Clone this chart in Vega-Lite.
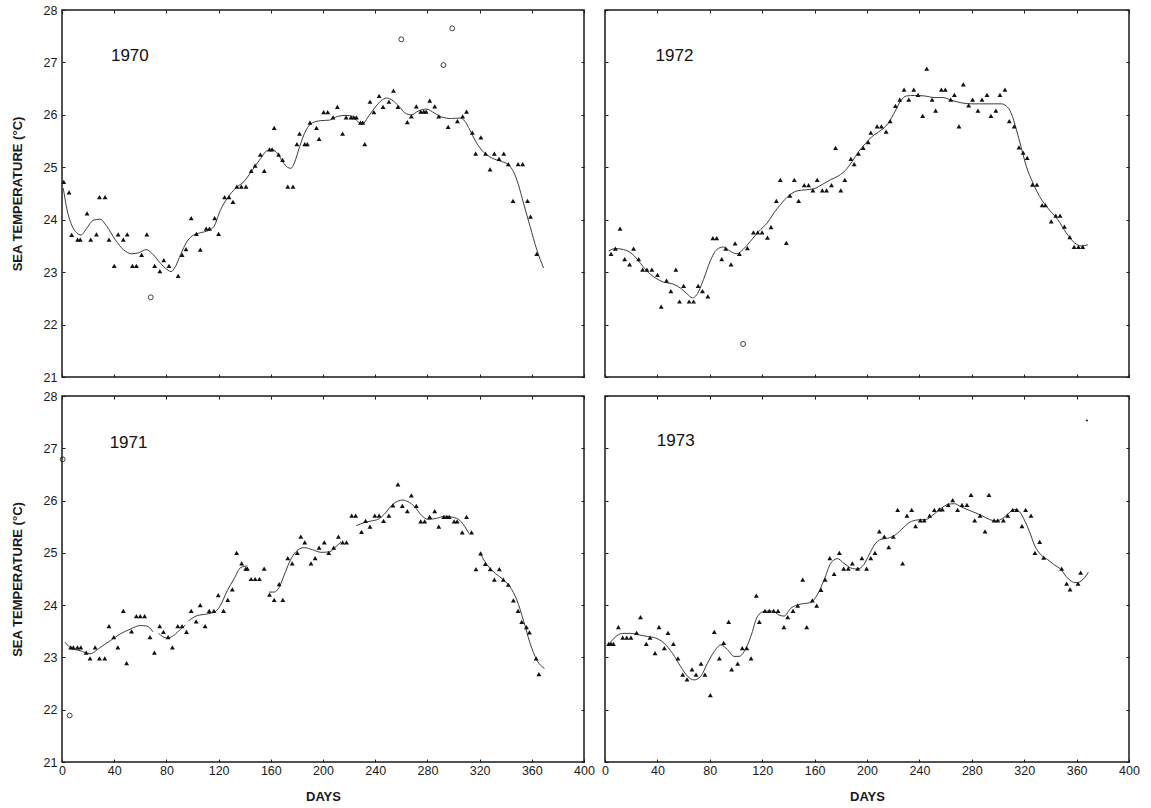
{
 "$schema": "https://vega.github.io/schema/vega-lite/v6.json",
 "background": "white",
 "padding": {"left": 10, "top": 3, "right": 5, "bottom": 5},
 "config": {
  "font": "Liberation Sans",
  "view": {"stroke": "#1a1a1a", "strokeWidth": 1.5},
  "axis": {"grid": false, "domain": false, "labelFlush": false, "labelOverlap": false, "ticks": true, "tickSize": -3, "tickColor": "#1a1a1a", "tickWidth": 1, "labelFont": "Liberation Sans", "labelFontSize": 12.5, "labelColor": "#1a1a1a", "titleFont": "Liberation Sans", "titleFontSize": 13, "titleFontWeight": "bold", "titleColor": "#1a1a1a"}
 },
 "datasets": {
  "years": [{"year": 1970, "label": "1970"}, {"year": 1971, "label": "1971"}, {"year": 1972, "label": "1972"}, {"year": 1973, "label": "1973"}],
  "obs": [
   {"year":1970,"day":1.3,"temp":24.72,"kind":"triangle"},{"year":1970,"day":5.4,"temp":24.52,"kind":"triangle"},{"year":1970,"day":7.4,"temp":23.71,"kind":"triangle"},{"year":1970,"day":12,"temp":23.62,"kind":"triangle"},{"year":1970,"day":14,"temp":23.62,"kind":"triangle"},{"year":1970,"day":19.2,"temp":24.12,"kind":"triangle"},{"year":1970,"day":22,"temp":23.62,"kind":"triangle"},{"year":1970,"day":26.4,"temp":23.72,"kind":"triangle"},{"year":1970,"day":28.7,"temp":24.43,"kind":"triangle"},{"year":1970,"day":33,"temp":24.43,"kind":"triangle"},{"year":1970,"day":36,"temp":23.62,"kind":"triangle"},{"year":1970,"day":40,"temp":23.12,"kind":"triangle"},{"year":1970,"day":43,"temp":23.72,"kind":"triangle"},{"year":1970,"day":47,"temp":23.62,"kind":"triangle"},{"year":1970,"day":50,"temp":23.72,"kind":"triangle"},{"year":1970,"day":54,"temp":23.12,"kind":"triangle"},{"year":1970,"day":57,"temp":23.12,"kind":"triangle"},{"year":1970,"day":61,"temp":23.33,"kind":"triangle"},{"year":1970,"day":65,"temp":23.72,"kind":"triangle"},{"year":1970,"day":71,"temp":23.12,"kind":"triangle"},{"year":1970,"day":75,"temp":23.02,"kind":"triangle"},{"year":1970,"day":78,"temp":23.23,"kind":"triangle"},{"year":1970,"day":82,"temp":23.12,"kind":"triangle"},{"year":1970,"day":89,"temp":22.93,"kind":"triangle"},{"year":1970,"day":92,"temp":23.33,"kind":"triangle"},{"year":1970,"day":95,"temp":23.44,"kind":"triangle"},{"year":1970,"day":99,"temp":24.03,"kind":"triangle"},{"year":1970,"day":103,"temp":23.73,"kind":"triangle"},{"year":1970,"day":106,"temp":23.43,"kind":"triangle"},{"year":1970,"day":110.5,"temp":23.83,"kind":"triangle"},{"year":1970,"day":113,"temp":23.83,"kind":"triangle"},{"year":1970,"day":117,"temp":24.03,"kind":"triangle"},{"year":1970,"day":120,"temp":23.73,"kind":"triangle"},{"year":1970,"day":124.6,"temp":24.43,"kind":"triangle"},{"year":1970,"day":128,"temp":24.43,"kind":"triangle"},{"year":1970,"day":131,"temp":24.34,"kind":"triangle"},{"year":1970,"day":134,"temp":24.63,"kind":"triangle"},{"year":1970,"day":137.4,"temp":24.63,"kind":"triangle"},{"year":1970,"day":141,"temp":24.63,"kind":"triangle"},{"year":1970,"day":145,"temp":24.93,"kind":"triangle"},{"year":1970,"day":148,"temp":25.03,"kind":"triangle"},{"year":1970,"day":152,"temp":25.24,"kind":"triangle"},{"year":1970,"day":155,"temp":24.93,"kind":"triangle"},{"year":1970,"day":159,"temp":25.34,"kind":"triangle"},{"year":1970,"day":161,"temp":25.34,"kind":"triangle"},{"year":1970,"day":162.6,"temp":25.75,"kind":"triangle"},{"year":1970,"day":166,"temp":25.24,"kind":"triangle"},{"year":1970,"day":169,"temp":25.14,"kind":"triangle"},{"year":1970,"day":173,"temp":24.63,"kind":"triangle"},{"year":1970,"day":177,"temp":24.63,"kind":"triangle"},{"year":1970,"day":180,"temp":25.44,"kind":"triangle"},{"year":1970,"day":182,"temp":25.64,"kind":"triangle"},{"year":1970,"day":186,"temp":25.44,"kind":"triangle"},{"year":1970,"day":188,"temp":25.44,"kind":"triangle"},{"year":1970,"day":190,"temp":25.85,"kind":"triangle"},{"year":1970,"day":195,"temp":25.75,"kind":"triangle"},{"year":1970,"day":197,"temp":25.54,"kind":"triangle"},{"year":1970,"day":200.5,"temp":26.05,"kind":"triangle"},{"year":1970,"day":203.6,"temp":26.05,"kind":"triangle"},{"year":1970,"day":207.7,"temp":25.95,"kind":"triangle"},{"year":1970,"day":211,"temp":26.15,"kind":"triangle"},{"year":1970,"day":215,"temp":25.64,"kind":"triangle"},{"year":1970,"day":217.7,"temp":25.95,"kind":"triangle"},{"year":1970,"day":221.5,"temp":25.95,"kind":"triangle"},{"year":1970,"day":223.6,"temp":25.95,"kind":"triangle"},{"year":1970,"day":225.6,"temp":25.95,"kind":"triangle"},{"year":1970,"day":228.7,"temp":25.85,"kind":"triangle"},{"year":1970,"day":230.5,"temp":25.85,"kind":"triangle"},{"year":1970,"day":232,"temp":25.44,"kind":"triangle"},{"year":1970,"day":236,"temp":26.25,"kind":"triangle"},{"year":1970,"day":239,"temp":26.05,"kind":"triangle"},{"year":1970,"day":243,"temp":26.36,"kind":"triangle"},{"year":1970,"day":246,"temp":26.15,"kind":"triangle"},{"year":1970,"day":250.5,"temp":26.25,"kind":"triangle"},{"year":1970,"day":254,"temp":26.46,"kind":"triangle"},{"year":1970,"day":257.4,"temp":26.15,"kind":"triangle"},{"year":1970,"day":264.6,"temp":25.86,"kind":"triangle"},{"year":1970,"day":267.7,"temp":25.97,"kind":"triangle"},{"year":1970,"day":271.5,"temp":26.16,"kind":"triangle"},{"year":1970,"day":274.9,"temp":26.06,"kind":"triangle"},{"year":1970,"day":277.2,"temp":26.06,"kind":"triangle"},{"year":1970,"day":279,"temp":26.06,"kind":"triangle"},{"year":1970,"day":281.8,"temp":26.27,"kind":"triangle"},{"year":1970,"day":285.6,"temp":26.16,"kind":"triangle"},{"year":1970,"day":288.7,"temp":25.97,"kind":"triangle"},{"year":1970,"day":295.9,"temp":25.77,"kind":"triangle"},{"year":1970,"day":303,"temp":25.88,"kind":"triangle"},{"year":1970,"day":307,"temp":25.97,"kind":"triangle"},{"year":1970,"day":310,"temp":26.06,"kind":"triangle"},{"year":1970,"day":314.4,"temp":25.66,"kind":"triangle"},{"year":1970,"day":317,"temp":25.26,"kind":"triangle"},{"year":1970,"day":321,"temp":25.57,"kind":"triangle"},{"year":1970,"day":324.6,"temp":25.26,"kind":"triangle"},{"year":1970,"day":328,"temp":24.96,"kind":"triangle"},{"year":1970,"day":331.3,"temp":25.26,"kind":"triangle"},{"year":1970,"day":334.9,"temp":25.16,"kind":"triangle"},{"year":1970,"day":338.5,"temp":25.26,"kind":"triangle"},{"year":1970,"day":342,"temp":25.06,"kind":"triangle"},{"year":1970,"day":345.6,"temp":24.36,"kind":"triangle"},{"year":1970,"day":349.5,"temp":25.06,"kind":"triangle"},{"year":1970,"day":353,"temp":25.06,"kind":"triangle"},{"year":1970,"day":356.7,"temp":24.36,"kind":"triangle"},{"year":1970,"day":359,"temp":24.06,"kind":"triangle"},{"year":1970,"day":363.8,"temp":23.35,"kind":"triangle"},
   {"year":1970,"day":68,"temp":22.52,"kind":"circle"},{"year":1970,"day":260,"temp":27.44,"kind":"circle"},{"year":1970,"day":292.3,"temp":26.95,"kind":"circle"},{"year":1970,"day":299,"temp":27.65,"kind":"circle"},
   {"year":1971,"day":6.7,"temp":23.19,"kind":"triangle"},{"year":1971,"day":8.7,"temp":23.19,"kind":"triangle"},{"year":1971,"day":11.8,"temp":23.19,"kind":"triangle"},{"year":1971,"day":14.4,"temp":23.19,"kind":"triangle"},{"year":1971,"day":18.5,"temp":23.09,"kind":"triangle"},{"year":1971,"day":21.5,"temp":22.98,"kind":"triangle"},{"year":1971,"day":25.4,"temp":23.19,"kind":"triangle"},{"year":1971,"day":28.7,"temp":22.98,"kind":"triangle"},{"year":1971,"day":32.8,"temp":22.98,"kind":"triangle"},{"year":1971,"day":36,"temp":23.6,"kind":"triangle"},{"year":1971,"day":39.7,"temp":23.39,"kind":"triangle"},{"year":1971,"day":42.8,"temp":23.19,"kind":"triangle"},{"year":1971,"day":47,"temp":23.89,"kind":"triangle"},{"year":1971,"day":49.5,"temp":22.89,"kind":"triangle"},{"year":1971,"day":53.3,"temp":23.5,"kind":"triangle"},{"year":1971,"day":57,"temp":23.79,"kind":"triangle"},{"year":1971,"day":60,"temp":23.79,"kind":"triangle"},{"year":1971,"day":63.3,"temp":23.79,"kind":"triangle"},{"year":1971,"day":67.4,"temp":23.39,"kind":"triangle"},{"year":1971,"day":70.8,"temp":23.09,"kind":"triangle"},{"year":1971,"day":74.9,"temp":23.6,"kind":"triangle"},{"year":1971,"day":77.7,"temp":23.49,"kind":"triangle"},{"year":1971,"day":81.3,"temp":23.39,"kind":"triangle"},{"year":1971,"day":84.6,"temp":23.19,"kind":"triangle"},{"year":1971,"day":88.7,"temp":23.6,"kind":"triangle"},{"year":1971,"day":92,"temp":23.6,"kind":"triangle"},{"year":1971,"day":95.4,"temp":23.49,"kind":"triangle"},{"year":1971,"day":99,"temp":23.89,"kind":"triangle"},{"year":1971,"day":102.8,"temp":23.69,"kind":"triangle"},{"year":1971,"day":105.9,"temp":24.0,"kind":"triangle"},{"year":1971,"day":109.7,"temp":23.6,"kind":"triangle"},{"year":1971,"day":112.8,"temp":23.89,"kind":"triangle"},{"year":1971,"day":116.4,"temp":23.89,"kind":"triangle"},{"year":1971,"day":119.7,"temp":24.19,"kind":"triangle"},{"year":1971,"day":123.8,"temp":23.89,"kind":"triangle"},{"year":1971,"day":127,"temp":24.1,"kind":"triangle"},{"year":1971,"day":130.5,"temp":24.3,"kind":"triangle"},{"year":1971,"day":133.8,"temp":25.0,"kind":"triangle"},{"year":1971,"day":137.7,"temp":24.8,"kind":"triangle"},{"year":1971,"day":140.8,"temp":24.7,"kind":"triangle"},{"year":1971,"day":142,"temp":24.7,"kind":"triangle"},{"year":1971,"day":144.9,"temp":24.5,"kind":"triangle"},{"year":1971,"day":148,"temp":24.5,"kind":"triangle"},{"year":1971,"day":151.3,"temp":24.5,"kind":"triangle"},{"year":1971,"day":154.9,"temp":24.7,"kind":"triangle"},{"year":1971,"day":159,"temp":24.2,"kind":"triangle"},{"year":1971,"day":162.6,"temp":24.1,"kind":"triangle"},{"year":1971,"day":166.4,"temp":24.4,"kind":"triangle"},{"year":1971,"day":169.2,"temp":24.1,"kind":"triangle"},{"year":1971,"day":173,"temp":24.9,"kind":"triangle"},{"year":1971,"day":176.4,"temp":24.8,"kind":"triangle"},{"year":1971,"day":180.3,"temp":25.0,"kind":"triangle"},{"year":1971,"day":183,"temp":25.31,"kind":"triangle"},{"year":1971,"day":186,"temp":25.2,"kind":"triangle"},{"year":1971,"day":190.8,"temp":24.8,"kind":"triangle"},{"year":1971,"day":194,"temp":24.9,"kind":"triangle"},{"year":1971,"day":197,"temp":25.1,"kind":"triangle"},{"year":1971,"day":201,"temp":25.2,"kind":"triangle"},{"year":1971,"day":204.4,"temp":25.0,"kind":"triangle"},{"year":1971,"day":208.2,"temp":25.1,"kind":"triangle"},{"year":1971,"day":211.8,"temp":25.31,"kind":"triangle"},{"year":1971,"day":215,"temp":25.2,"kind":"triangle"},{"year":1971,"day":218,"temp":25.2,"kind":"triangle"},{"year":1971,"day":222,"temp":25.71,"kind":"triangle"},{"year":1971,"day":225,"temp":25.71,"kind":"triangle"},{"year":1971,"day":229.5,"temp":25.4,"kind":"triangle"},{"year":1971,"day":232.6,"temp":25.61,"kind":"triangle"},{"year":1971,"day":236,"temp":25.5,"kind":"triangle"},{"year":1971,"day":239.7,"temp":25.71,"kind":"triangle"},{"year":1971,"day":243,"temp":25.71,"kind":"triangle"},{"year":1971,"day":246.4,"temp":25.61,"kind":"triangle"},{"year":1971,"day":250.5,"temp":25.71,"kind":"triangle"},{"year":1971,"day":253.6,"temp":25.91,"kind":"triangle"},{"year":1971,"day":257.4,"temp":26.31,"kind":"triangle"},{"year":1971,"day":260.8,"temp":25.9,"kind":"triangle"},{"year":1971,"day":264.6,"temp":25.8,"kind":"triangle"},{"year":1971,"day":267.7,"temp":26.1,"kind":"triangle"},{"year":1971,"day":271.5,"temp":25.9,"kind":"triangle"},{"year":1971,"day":274.9,"temp":25.6,"kind":"triangle"},{"year":1971,"day":277.9,"temp":25.6,"kind":"triangle"},{"year":1971,"day":281.8,"temp":25.69,"kind":"triangle"},{"year":1971,"day":285.6,"temp":25.8,"kind":"triangle"},{"year":1971,"day":288.7,"temp":25.5,"kind":"triangle"},{"year":1971,"day":292.6,"temp":25.69,"kind":"triangle"},{"year":1971,"day":294.9,"temp":25.69,"kind":"triangle"},{"year":1971,"day":296.7,"temp":25.69,"kind":"triangle"},{"year":1971,"day":300.5,"temp":25.6,"kind":"triangle"},{"year":1971,"day":302.8,"temp":25.6,"kind":"triangle"},{"year":1971,"day":306.7,"temp":25.39,"kind":"triangle"},{"year":1971,"day":310,"temp":25.69,"kind":"triangle"},{"year":1971,"day":313.8,"temp":25.39,"kind":"triangle"},{"year":1971,"day":317.2,"temp":24.69,"kind":"triangle"},{"year":1971,"day":320.8,"temp":24.99,"kind":"triangle"},{"year":1971,"day":324.4,"temp":24.79,"kind":"triangle"},{"year":1971,"day":328.2,"temp":24.69,"kind":"triangle"},{"year":1971,"day":331.3,"temp":24.49,"kind":"triangle"},{"year":1971,"day":335.1,"temp":24.69,"kind":"triangle"},{"year":1971,"day":338.2,"temp":24.49,"kind":"triangle"},{"year":1971,"day":342,"temp":24.39,"kind":"triangle"},{"year":1971,"day":345.9,"temp":24.09,"kind":"triangle"},{"year":1971,"day":349.5,"temp":23.89,"kind":"triangle"},{"year":1971,"day":352.3,"temp":23.68,"kind":"triangle"},{"year":1971,"day":355.9,"temp":23.58,"kind":"triangle"},{"year":1971,"day":358.2,"temp":23.48,"kind":"triangle"},{"year":1971,"day":363.3,"temp":22.98,"kind":"triangle"},{"year":1971,"day":365.4,"temp":22.68,"kind":"triangle"},
   {"year":1971,"day":0.5,"temp":26.79,"kind":"circle"},{"year":1971,"day":5.9,"temp":21.89,"kind":"circle"},
   {"year":1972,"day":4.6,"temp":23.35,"kind":"triangle"},{"year":1972,"day":7.9,"temp":23.45,"kind":"triangle"},{"year":1972,"day":11.5,"temp":23.83,"kind":"triangle"},{"year":1972,"day":15,"temp":23.25,"kind":"triangle"},{"year":1972,"day":18.8,"temp":23.15,"kind":"triangle"},{"year":1972,"day":21.8,"temp":23.45,"kind":"triangle"},{"year":1972,"day":25.7,"temp":23.25,"kind":"triangle"},{"year":1972,"day":28.7,"temp":23.05,"kind":"triangle"},{"year":1972,"day":32,"temp":23.05,"kind":"triangle"},{"year":1972,"day":35.8,"temp":23.05,"kind":"triangle"},{"year":1972,"day":40.1,"temp":22.95,"kind":"triangle"},{"year":1972,"day":42.9,"temp":22.34,"kind":"triangle"},{"year":1972,"day":47,"temp":22.84,"kind":"triangle"},{"year":1972,"day":50.3,"temp":22.64,"kind":"triangle"},{"year":1972,"day":54.1,"temp":23.05,"kind":"triangle"},{"year":1972,"day":56.9,"temp":22.44,"kind":"triangle"},{"year":1972,"day":60,"temp":22.74,"kind":"triangle"},{"year":1972,"day":64.2,"temp":22.44,"kind":"triangle"},{"year":1972,"day":67.6,"temp":22.44,"kind":"triangle"},{"year":1972,"day":71.1,"temp":22.74,"kind":"triangle"},{"year":1972,"day":74.4,"temp":22.64,"kind":"triangle"},{"year":1972,"day":78.5,"temp":22.54,"kind":"triangle"},{"year":1972,"day":82.3,"temp":23.65,"kind":"triangle"},{"year":1972,"day":85.3,"temp":23.65,"kind":"triangle"},{"year":1972,"day":89.1,"temp":23.25,"kind":"triangle"},{"year":1972,"day":92.2,"temp":23.45,"kind":"triangle"},{"year":1972,"day":96.2,"temp":23.15,"kind":"triangle"},{"year":1972,"day":99.3,"temp":23.55,"kind":"triangle"},{"year":1972,"day":102.6,"temp":23.35,"kind":"triangle"},{"year":1972,"day":108.7,"temp":23.46,"kind":"triangle"},{"year":1972,"day":113.3,"temp":23.76,"kind":"triangle"},{"year":1972,"day":116.6,"temp":23.76,"kind":"triangle"},{"year":1972,"day":119.9,"temp":23.76,"kind":"triangle"},{"year":1972,"day":124,"temp":23.66,"kind":"triangle"},{"year":1972,"day":126.7,"temp":23.86,"kind":"triangle"},{"year":1972,"day":130.8,"temp":24.36,"kind":"triangle"},{"year":1972,"day":133.8,"temp":24.76,"kind":"triangle"},{"year":1972,"day":138.4,"temp":23.56,"kind":"triangle"},{"year":1972,"day":141.2,"temp":24.46,"kind":"triangle"},{"year":1972,"day":144.5,"temp":24.76,"kind":"triangle"},{"year":1972,"day":147.8,"temp":24.36,"kind":"triangle"},{"year":1972,"day":152.1,"temp":24.66,"kind":"triangle"},{"year":1972,"day":155.4,"temp":24.66,"kind":"triangle"},{"year":1972,"day":158.7,"temp":24.56,"kind":"triangle"},{"year":1972,"day":162,"temp":24.76,"kind":"triangle"},{"year":1972,"day":165.9,"temp":24.56,"kind":"triangle"},{"year":1972,"day":169.1,"temp":24.56,"kind":"triangle"},{"year":1972,"day":172.9,"temp":24.66,"kind":"triangle"},{"year":1972,"day":176,"temp":25.37,"kind":"triangle"},{"year":1972,"day":180,"temp":24.56,"kind":"triangle"},{"year":1972,"day":183.1,"temp":24.76,"kind":"triangle"},{"year":1972,"day":187.7,"temp":25.16,"kind":"triangle"},{"year":1972,"day":190.2,"temp":25.06,"kind":"triangle"},{"year":1972,"day":193.5,"temp":25.26,"kind":"triangle"},{"year":1972,"day":197.1,"temp":25.37,"kind":"triangle"},{"year":1972,"day":200.9,"temp":25.48,"kind":"triangle"},{"year":1972,"day":202.9,"temp":25.66,"kind":"triangle"},{"year":1972,"day":207.7,"temp":25.78,"kind":"triangle"},{"year":1972,"day":211,"temp":25.78,"kind":"triangle"},{"year":1972,"day":214.6,"temp":25.68,"kind":"triangle"},{"year":1972,"day":217.7,"temp":25.88,"kind":"triangle"},{"year":1972,"day":221.7,"temp":26.17,"kind":"triangle"},{"year":1972,"day":225,"temp":26.29,"kind":"triangle"},{"year":1972,"day":228.3,"temp":26.48,"kind":"triangle"},{"year":1972,"day":231.9,"temp":26.29,"kind":"triangle"},{"year":1972,"day":235.7,"temp":26.48,"kind":"triangle"},{"year":1972,"day":239,"temp":26.38,"kind":"triangle"},{"year":1972,"day":242.5,"temp":25.98,"kind":"triangle"},{"year":1972,"day":245.6,"temp":26.88,"kind":"triangle"},{"year":1972,"day":249.7,"temp":26.29,"kind":"triangle"},{"year":1972,"day":252.4,"temp":26.08,"kind":"triangle"},{"year":1972,"day":256.8,"temp":26.48,"kind":"triangle"},{"year":1972,"day":259.8,"temp":26.48,"kind":"triangle"},{"year":1972,"day":263.9,"temp":26.29,"kind":"triangle"},{"year":1972,"day":266.7,"temp":26.38,"kind":"triangle"},{"year":1972,"day":270.2,"temp":25.78,"kind":"triangle"},{"year":1972,"day":273.5,"temp":26.58,"kind":"triangle"},{"year":1972,"day":277.6,"temp":26.18,"kind":"triangle"},{"year":1972,"day":280.6,"temp":26.29,"kind":"triangle"},{"year":1972,"day":284.7,"temp":26.08,"kind":"triangle"},{"year":1972,"day":287.8,"temp":26.29,"kind":"triangle"},{"year":1972,"day":291.6,"temp":26.38,"kind":"triangle"},{"year":1972,"day":294.6,"temp":25.98,"kind":"triangle"},{"year":1972,"day":298.4,"temp":26.08,"kind":"triangle"},{"year":1972,"day":301.5,"temp":26.38,"kind":"triangle"},{"year":1972,"day":305.3,"temp":26.48,"kind":"triangle"},{"year":1972,"day":308.6,"temp":25.88,"kind":"triangle"},{"year":1972,"day":312.4,"temp":25.78,"kind":"triangle"},{"year":1972,"day":316,"temp":25.38,"kind":"triangle"},{"year":1972,"day":319.2,"temp":25.28,"kind":"triangle"},{"year":1972,"day":322.3,"temp":25.18,"kind":"triangle"},{"year":1972,"day":326.3,"temp":24.67,"kind":"triangle"},{"year":1972,"day":329.7,"temp":24.67,"kind":"triangle"},{"year":1972,"day":333.7,"temp":24.28,"kind":"triangle"},{"year":1972,"day":336.2,"temp":24.28,"kind":"triangle"},{"year":1972,"day":340.6,"temp":23.97,"kind":"triangle"},{"year":1972,"day":344.1,"temp":24.08,"kind":"triangle"},{"year":1972,"day":347.4,"temp":24.08,"kind":"triangle"},{"year":1972,"day":350.7,"temp":23.87,"kind":"triangle"},{"year":1972,"day":354.8,"temp":23.67,"kind":"triangle"},{"year":1972,"day":358.1,"temp":23.48,"kind":"triangle"},{"year":1972,"day":361.4,"temp":23.48,"kind":"triangle"},{"year":1972,"day":364.7,"temp":23.48,"kind":"triangle"},
   {"year":1972,"day":105.4,"temp":21.63,"kind":"circle"},
   {"year":1973,"day":2.8,"temp":23.26,"kind":"triangle"},{"year":1973,"day":4.6,"temp":23.26,"kind":"triangle"},{"year":1973,"day":6.4,"temp":23.26,"kind":"triangle"},{"year":1973,"day":10.2,"temp":23.58,"kind":"triangle"},{"year":1973,"day":13.5,"temp":23.38,"kind":"triangle"},{"year":1973,"day":16.6,"temp":23.38,"kind":"triangle"},{"year":1973,"day":19.8,"temp":23.38,"kind":"triangle"},{"year":1973,"day":24.1,"temp":23.47,"kind":"triangle"},{"year":1973,"day":27.1,"temp":23.77,"kind":"triangle"},{"year":1973,"day":31.5,"temp":23.26,"kind":"triangle"},{"year":1973,"day":34.4,"temp":23.38,"kind":"triangle"},{"year":1973,"day":38.2,"temp":23.08,"kind":"triangle"},{"year":1973,"day":41.2,"temp":23.58,"kind":"triangle"},{"year":1973,"day":45.3,"temp":23.18,"kind":"triangle"},{"year":1973,"day":48.1,"temp":23.47,"kind":"triangle"},{"year":1973,"day":52.2,"temp":23.26,"kind":"triangle"},{"year":1973,"day":55.7,"temp":22.98,"kind":"triangle"},{"year":1973,"day":59.3,"temp":22.67,"kind":"triangle"},{"year":1973,"day":62.6,"temp":22.58,"kind":"triangle"},{"year":1973,"day":66.4,"temp":22.77,"kind":"triangle"},{"year":1973,"day":69.5,"temp":22.67,"kind":"triangle"},{"year":1973,"day":73.3,"temp":22.88,"kind":"triangle"},{"year":1973,"day":76.3,"temp":22.67,"kind":"triangle"},{"year":1973,"day":80.4,"temp":22.28,"kind":"triangle"},{"year":1973,"day":83.4,"temp":23.49,"kind":"triangle"},{"year":1973,"day":87.3,"temp":22.98,"kind":"triangle"},{"year":1973,"day":90.6,"temp":23.28,"kind":"triangle"},{"year":1973,"day":94.4,"temp":23.68,"kind":"triangle"},{"year":1973,"day":96.7,"temp":22.77,"kind":"triangle"},{"year":1973,"day":101.3,"temp":22.88,"kind":"triangle"},{"year":1973,"day":104.8,"temp":23.18,"kind":"triangle"},{"year":1973,"day":108.2,"temp":23.18,"kind":"triangle"},{"year":1973,"day":111.5,"temp":22.98,"kind":"triangle"},{"year":1973,"day":115.5,"temp":24.18,"kind":"triangle"},{"year":1973,"day":117.8,"temp":23.68,"kind":"triangle"},{"year":1973,"day":122.1,"temp":23.89,"kind":"triangle"},{"year":1973,"day":125.4,"temp":23.89,"kind":"triangle"},{"year":1973,"day":128.8,"temp":23.89,"kind":"triangle"},{"year":1973,"day":132.1,"temp":23.89,"kind":"triangle"},{"year":1973,"day":136.6,"temp":23.58,"kind":"triangle"},{"year":1973,"day":139.5,"temp":23.77,"kind":"triangle"},{"year":1973,"day":143.5,"temp":23.89,"kind":"triangle"},{"year":1973,"day":147.1,"temp":23.99,"kind":"triangle"},{"year":1973,"day":150.9,"temp":24.49,"kind":"triangle"},{"year":1973,"day":154,"temp":23.58,"kind":"triangle"},{"year":1973,"day":158.3,"temp":24.09,"kind":"triangle"},{"year":1973,"day":161.6,"temp":23.99,"kind":"triangle"},{"year":1973,"day":164.9,"temp":24.29,"kind":"triangle"},{"year":1973,"day":168,"temp":24.49,"kind":"triangle"},{"year":1973,"day":171.6,"temp":24.9,"kind":"triangle"},{"year":1973,"day":174.9,"temp":24.6,"kind":"triangle"},{"year":1973,"day":178.9,"temp":25.0,"kind":"triangle"},{"year":1973,"day":182.2,"temp":24.7,"kind":"triangle"},{"year":1973,"day":185.7,"temp":24.7,"kind":"triangle"},{"year":1973,"day":188.8,"temp":24.8,"kind":"triangle"},{"year":1973,"day":192.9,"temp":24.7,"kind":"triangle"},{"year":1973,"day":196.1,"temp":24.9,"kind":"triangle"},{"year":1973,"day":199.7,"temp":24.7,"kind":"triangle"},{"year":1973,"day":202.9,"temp":24.9,"kind":"triangle"},{"year":1973,"day":206.1,"temp":25.0,"kind":"triangle"},{"year":1973,"day":209.4,"temp":25.41,"kind":"triangle"},{"year":1973,"day":213.2,"temp":25.31,"kind":"triangle"},{"year":1973,"day":216.6,"temp":25.11,"kind":"triangle"},{"year":1973,"day":220.1,"temp":25.31,"kind":"triangle"},{"year":1973,"day":223.4,"temp":25.82,"kind":"triangle"},{"year":1973,"day":227.2,"temp":24.8,"kind":"triangle"},{"year":1973,"day":230.5,"temp":25.71,"kind":"triangle"},{"year":1973,"day":234.1,"temp":25.82,"kind":"triangle"},{"year":1973,"day":237.1,"temp":25.51,"kind":"triangle"},{"year":1973,"day":240.7,"temp":25.62,"kind":"triangle"},{"year":1973,"day":243.7,"temp":25.62,"kind":"triangle"},{"year":1973,"day":247.8,"temp":25.71,"kind":"triangle"},{"year":1973,"day":251.4,"temp":25.82,"kind":"triangle"},{"year":1973,"day":255.2,"temp":25.83,"kind":"triangle"},{"year":1973,"day":257.5,"temp":25.83,"kind":"triangle"},{"year":1973,"day":262,"temp":25.92,"kind":"triangle"},{"year":1973,"day":265.4,"temp":26.01,"kind":"triangle"},{"year":1973,"day":269.2,"temp":25.82,"kind":"triangle"},{"year":1973,"day":272.5,"temp":25.92,"kind":"triangle"},{"year":1973,"day":276.3,"temp":25.92,"kind":"triangle"},{"year":1973,"day":279.4,"temp":26.11,"kind":"triangle"},{"year":1973,"day":282.2,"temp":25.62,"kind":"triangle"},{"year":1973,"day":286.3,"temp":25.71,"kind":"triangle"},{"year":1973,"day":290.1,"temp":25.41,"kind":"triangle"},{"year":1973,"day":293.1,"temp":26.11,"kind":"triangle"},{"year":1973,"day":297,"temp":25.62,"kind":"triangle"},{"year":1973,"day":299.8,"temp":25.62,"kind":"triangle"},{"year":1973,"day":304.1,"temp":25.62,"kind":"triangle"},{"year":1973,"day":307.4,"temp":25.71,"kind":"triangle"},{"year":1973,"day":311.2,"temp":25.82,"kind":"triangle"},{"year":1973,"day":314.3,"temp":25.82,"kind":"triangle"},{"year":1973,"day":318.3,"temp":25.51,"kind":"triangle"},{"year":1973,"day":321.1,"temp":25.82,"kind":"triangle"},{"year":1973,"day":325.2,"temp":25.71,"kind":"triangle"},{"year":1973,"day":328.2,"temp":25.0,"kind":"triangle"},{"year":1973,"day":331.8,"temp":25.21,"kind":"triangle"},{"year":1973,"day":334.9,"temp":24.91,"kind":"triangle"},{"year":1973,"day":348.6,"temp":24.7,"kind":"triangle"},{"year":1973,"day":352.4,"temp":24.41,"kind":"triangle"},{"year":1973,"day":355,"temp":24.3,"kind":"triangle"},{"year":1973,"day":361.1,"temp":24.41,"kind":"triangle"},{"year":1973,"day":363.1,"temp":24.62,"kind":"triangle"},
   {"year":1973,"day":367.9,"temp":27.53,"kind":"dot"}
  ],
  "curve": [
   {"year":1970,"seg":"a","day":1,"temp":24.6},{"year":1970,"seg":"a","day":3.6,"temp":24.22},{"year":1970,"seg":"a","day":7.4,"temp":23.9},{"year":1970,"seg":"a","day":11.3,"temp":23.75},{"year":1970,"seg":"a","day":14.6,"temp":23.71},{"year":1970,"seg":"a","day":19,"temp":23.84},{"year":1970,"seg":"a","day":24,"temp":23.99},{"year":1970,"seg":"a","day":29.2,"temp":24.01},{"year":1970,"seg":"a","day":34.4,"temp":23.87},{"year":1970,"seg":"a","day":40.8,"temp":23.62},{"year":1970,"seg":"a","day":47,"temp":23.43},{"year":1970,"seg":"a","day":53.6,"temp":23.35},{"year":1970,"seg":"a","day":58.7,"temp":23.37},{"year":1970,"seg":"a","day":64.6,"temp":23.43},{"year":1970,"seg":"a","day":70,"temp":23.33},{"year":1970,"seg":"a","day":75.4,"temp":23.17},{"year":1970,"seg":"a","day":80.5,"temp":23.05},{"year":1970,"seg":"a","day":83.6,"temp":23.01},{"year":1970,"seg":"a","day":87,"temp":23.11},{"year":1970,"seg":"a","day":90.8,"temp":23.33},{"year":1970,"seg":"a","day":95.9,"temp":23.59},{"year":1970,"seg":"a","day":101,"temp":23.71},{"year":1970,"seg":"a","day":106,"temp":23.75},{"year":1970,"seg":"a","day":112.6,"temp":23.8},{"year":1970,"seg":"a","day":116.4,"temp":23.87},{"year":1970,"seg":"a","day":121.5,"temp":24.19},{"year":1970,"seg":"a","day":126.7,"temp":24.41},{"year":1970,"seg":"a","day":133,"temp":24.6},{"year":1970,"seg":"a","day":139.5,"temp":24.73},{"year":1970,"seg":"a","day":146,"temp":24.95},{"year":1970,"seg":"a","day":152.3,"temp":25.17},{"year":1970,"seg":"a","day":157.4,"temp":25.32},{"year":1970,"seg":"a","day":161.3,"temp":25.33},{"year":1970,"seg":"a","day":165,"temp":25.27},{"year":1970,"seg":"a","day":169,"temp":25.11},{"year":1970,"seg":"a","day":172.8,"temp":25.0},{"year":1970,"seg":"a","day":175.4,"temp":24.98},{"year":1970,"seg":"a","day":178,"temp":25.08},{"year":1970,"seg":"a","day":181.8,"temp":25.37},{"year":1970,"seg":"a","day":187,"temp":25.71},{"year":1970,"seg":"a","day":192,"temp":25.85},{"year":1970,"seg":"a","day":198.5,"temp":25.89},{"year":1970,"seg":"a","day":205,"temp":25.9},{"year":1970,"seg":"a","day":211,"temp":25.97},{"year":1970,"seg":"a","day":217.7,"temp":25.99},{"year":1970,"seg":"a","day":222.8,"temp":25.97},{"year":1970,"seg":"a","day":226.7,"temp":25.87},{"year":1970,"seg":"a","day":230.5,"temp":25.83},{"year":1970,"seg":"a","day":234,"temp":25.94},{"year":1970,"seg":"a","day":239.5,"temp":26.13},{"year":1970,"seg":"a","day":244.6,"temp":26.27},{"year":1970,"seg":"a","day":248.5,"temp":26.32},{"year":1970,"seg":"a","day":252.3,"temp":26.29},{"year":1970,"seg":"a","day":258.7,"temp":26.15},{"year":1970,"seg":"a","day":262.6,"temp":26.04},{"year":1970,"seg":"a","day":267.7,"temp":26.0},{"year":1970,"seg":"a","day":272.8,"temp":26.07},{"year":1970,"seg":"a","day":279.2,"temp":26.11},{"year":1970,"seg":"a","day":285.6,"temp":26.03},{"year":1970,"seg":"a","day":290.8,"temp":25.96},{"year":1970,"seg":"a","day":298.5,"temp":25.93},{"year":1970,"seg":"a","day":304.9,"temp":25.94},{"year":1970,"seg":"a","day":308.7,"temp":25.88},{"year":1970,"seg":"a","day":312.6,"temp":25.71},{"year":1970,"seg":"a","day":316.4,"temp":25.52},{"year":1970,"seg":"a","day":321.5,"temp":25.33},{"year":1970,"seg":"a","day":329.2,"temp":25.18},{"year":1970,"seg":"a","day":336.9,"temp":25.11},{"year":1970,"seg":"a","day":342,"temp":25.05},{"year":1970,"seg":"a","day":345.9,"temp":24.92},{"year":1970,"seg":"a","day":349.7,"temp":24.67},{"year":1970,"seg":"a","day":353.6,"temp":24.32},{"year":1970,"seg":"a","day":358.7,"temp":23.87},{"year":1970,"seg":"a","day":363.8,"temp":23.43},{"year":1970,"seg":"a","day":369,"temp":23.08},
   {"year":1971,"seg":"a","day":2.3,"temp":23.29},{"year":1971,"seg":"a","day":7.4,"temp":23.17},{"year":1971,"seg":"a","day":13.8,"temp":23.13},{"year":1971,"seg":"a","day":21.5,"temp":23.07},{"year":1971,"seg":"a","day":29.2,"temp":23.19},{"year":1971,"seg":"a","day":37,"temp":23.32},{"year":1971,"seg":"a","day":44.6,"temp":23.45},{"year":1971,"seg":"a","day":52.3,"temp":23.54},{"year":1971,"seg":"a","day":60,"temp":23.61},{"year":1971,"seg":"a","day":65,"temp":23.6},{"year":1971,"seg":"a","day":69.7,"temp":23.49},
   {"year":1971,"seg":"b","day":74,"temp":23.46},{"year":1971,"seg":"b","day":80.5,"temp":23.37},{"year":1971,"seg":"b","day":85.6,"temp":23.42},{"year":1971,"seg":"b","day":90.8,"temp":23.54},{"year":1971,"seg":"b","day":94.6,"temp":23.62},
   {"year":1971,"seg":"c","day":97,"temp":23.7},{"year":1971,"seg":"c","day":103.6,"temp":23.8},{"year":1971,"seg":"c","day":111,"temp":23.83},{"year":1971,"seg":"c","day":117.7,"temp":23.88},{"year":1971,"seg":"c","day":121.5,"temp":24.0},{"year":1971,"seg":"c","day":126.7,"temp":24.28},{"year":1971,"seg":"c","day":131.8,"temp":24.5},{"year":1971,"seg":"c","day":137,"temp":24.72},{"year":1971,"seg":"c","day":142,"temp":24.75},
   {"year":1971,"seg":"d","day":158.7,"temp":24.25},{"year":1971,"seg":"d","day":162.6,"temp":24.25},{"year":1971,"seg":"d","day":166.4,"temp":24.34},{"year":1971,"seg":"d","day":170,"temp":24.56},{"year":1971,"seg":"d","day":175.4,"temp":24.88},{"year":1971,"seg":"d","day":180.5,"temp":25.05},{"year":1971,"seg":"d","day":185.6,"temp":25.1},{"year":1971,"seg":"d","day":192,"temp":25.06},{"year":1971,"seg":"d","day":198.5,"temp":25.01},{"year":1971,"seg":"d","day":204.9,"temp":25.02},{"year":1971,"seg":"d","day":210,"temp":25.12},{"year":1971,"seg":"d","day":213.8,"temp":25.21},
   {"year":1971,"seg":"e","day":225.4,"temp":25.52},{"year":1971,"seg":"e","day":231.8,"temp":25.58},{"year":1971,"seg":"e","day":237,"temp":25.61},{"year":1971,"seg":"e","day":242,"temp":25.64},{"year":1971,"seg":"e","day":247,"temp":25.74},{"year":1971,"seg":"e","day":252.3,"temp":25.9},{"year":1971,"seg":"e","day":257.4,"temp":25.99},{"year":1971,"seg":"e","day":261.3,"temp":26.01},{"year":1971,"seg":"e","day":265.1,"temp":25.98},{"year":1971,"seg":"e","day":270.3,"temp":25.88},{"year":1971,"seg":"e","day":275.4,"temp":25.72},{"year":1971,"seg":"e","day":280.5,"temp":25.64},{"year":1971,"seg":"e","day":286.9,"temp":25.66},{"year":1971,"seg":"e","day":293.3,"temp":25.7},{"year":1971,"seg":"e","day":299.7,"temp":25.68},{"year":1971,"seg":"e","day":304.9,"temp":25.62},{"year":1971,"seg":"e","day":308.7,"temp":25.5},{"year":1971,"seg":"e","day":311.8,"temp":25.37},
   {"year":1971,"seg":"f","day":320.3,"temp":25.0},{"year":1971,"seg":"f","day":324.1,"temp":24.83},{"year":1971,"seg":"f","day":330.5,"temp":24.64},{"year":1971,"seg":"f","day":337,"temp":24.51},{"year":1971,"seg":"f","day":343.3,"temp":24.35},{"year":1971,"seg":"f","day":348.5,"temp":24.1},{"year":1971,"seg":"f","day":353.6,"temp":23.71},{"year":1971,"seg":"f","day":358.7,"temp":23.27},{"year":1971,"seg":"f","day":363.8,"temp":22.95},{"year":1971,"seg":"f","day":369.7,"temp":22.79},
   {"year":1972,"seg":"a","day":2.8,"temp":23.4},{"year":1972,"seg":"a","day":7.9,"temp":23.45},{"year":1972,"seg":"a","day":14.2,"temp":23.43},{"year":1972,"seg":"a","day":20.6,"temp":23.35},{"year":1972,"seg":"a","day":25.7,"temp":23.21},{"year":1972,"seg":"a","day":32,"temp":23.02},{"year":1972,"seg":"a","day":38.4,"temp":22.89},{"year":1972,"seg":"a","day":44.7,"temp":22.81},{"year":1972,"seg":"a","day":51.1,"temp":22.78},{"year":1972,"seg":"a","day":57.4,"temp":22.7},{"year":1972,"seg":"a","day":62.5,"temp":22.59},{"year":1972,"seg":"a","day":66.8,"temp":22.51},{"year":1972,"seg":"a","day":70.1,"temp":22.57},{"year":1972,"seg":"a","day":75.2,"temp":22.86},{"year":1972,"seg":"a","day":80.3,"temp":23.21},{"year":1972,"seg":"a","day":85.3,"temp":23.43},{"year":1972,"seg":"a","day":90.4,"temp":23.48},{"year":1972,"seg":"a","day":95.5,"temp":23.4},{"year":1972,"seg":"a","day":100.6,"temp":23.35},{"year":1972,"seg":"a","day":105.7,"temp":23.44},{"year":1972,"seg":"a","day":110.7,"temp":23.58},{"year":1972,"seg":"a","day":117.1,"temp":23.77},{"year":1972,"seg":"a","day":123.9,"temp":23.94},{"year":1972,"seg":"a","day":129,"temp":24.13},{"year":1972,"seg":"a","day":134,"temp":24.29},{"year":1972,"seg":"a","day":140.4,"temp":24.46},{"year":1972,"seg":"a","day":146.7,"temp":24.55},{"year":1972,"seg":"a","day":153,"temp":24.57},{"year":1972,"seg":"a","day":159.4,"temp":24.59},{"year":1972,"seg":"a","day":165.7,"temp":24.67},{"year":1972,"seg":"a","day":172,"temp":24.76},{"year":1972,"seg":"a","day":178.4,"temp":24.84},{"year":1972,"seg":"a","day":183.5,"temp":24.94},{"year":1972,"seg":"a","day":188.6,"temp":25.11},{"year":1972,"seg":"a","day":193.6,"temp":25.3},{"year":1972,"seg":"a","day":198.7,"temp":25.45},{"year":1972,"seg":"a","day":203.5,"temp":25.58},{"year":1972,"seg":"a","day":208.6,"temp":25.67},{"year":1972,"seg":"a","day":216.2,"temp":25.84},{"year":1972,"seg":"a","day":221.3,"temp":26.06},{"year":1972,"seg":"a","day":225.8,"temp":26.27},{"year":1972,"seg":"a","day":230.1,"temp":26.36},{"year":1972,"seg":"a","day":236.4,"temp":26.37},{"year":1972,"seg":"a","day":244,"temp":26.36},{"year":1972,"seg":"a","day":251.6,"temp":26.33},{"year":1972,"seg":"a","day":258,"temp":26.33},{"year":1972,"seg":"a","day":264.3,"temp":26.28},{"year":1972,"seg":"a","day":271.9,"temp":26.23},{"year":1972,"seg":"a","day":279.6,"temp":26.21},{"year":1972,"seg":"a","day":287.2,"temp":26.21},{"year":1972,"seg":"a","day":294.8,"temp":26.21},{"year":1972,"seg":"a","day":302.5,"temp":26.21},{"year":1972,"seg":"a","day":306.3,"temp":26.17},{"year":1972,"seg":"a","day":310.1,"temp":26.03},{"year":1972,"seg":"a","day":314,"temp":25.72},{"year":1972,"seg":"a","day":317.8,"temp":25.37},{"year":1972,"seg":"a","day":321.6,"temp":25.02},{"year":1972,"seg":"a","day":326.7,"temp":24.7},{"year":1972,"seg":"a","day":331.8,"temp":24.44},{"year":1972,"seg":"a","day":338.1,"temp":24.22},{"year":1972,"seg":"a","day":345.7,"temp":24.0},{"year":1972,"seg":"a","day":352.1,"temp":23.75},{"year":1972,"seg":"a","day":358.4,"temp":23.56},{"year":1972,"seg":"a","day":363.5,"temp":23.5},{"year":1972,"seg":"a","day":368.6,"temp":23.52},
   {"year":1973,"seg":"a","day":2.9,"temp":23.25},{"year":1973,"seg":"a","day":7,"temp":23.37},{"year":1973,"seg":"a","day":13.4,"temp":23.46},{"year":1973,"seg":"a","day":19.7,"temp":23.46},{"year":1973,"seg":"a","day":26.1,"temp":23.43},{"year":1973,"seg":"a","day":32.4,"temp":23.4},{"year":1973,"seg":"a","day":38.8,"temp":23.37},{"year":1973,"seg":"a","day":45.2,"temp":23.27},{"year":1973,"seg":"a","day":51.5,"temp":23.08},{"year":1973,"seg":"a","day":57.9,"temp":22.82},{"year":1973,"seg":"a","day":63,"temp":22.64},{"year":1973,"seg":"a","day":68,"temp":22.57},{"year":1973,"seg":"a","day":73.1,"temp":22.64},{"year":1973,"seg":"a","day":78.2,"temp":22.89},{"year":1973,"seg":"a","day":83.3,"temp":23.11},{"year":1973,"seg":"a","day":88.4,"temp":23.24},{"year":1973,"seg":"a","day":93.5,"temp":23.15},{"year":1973,"seg":"a","day":98.5,"temp":23.02},{"year":1973,"seg":"a","day":102.3,"temp":23.02},{"year":1973,"seg":"a","day":106.2,"temp":23.11},{"year":1973,"seg":"a","day":111.3,"temp":23.4},{"year":1973,"seg":"a","day":116.3,"temp":23.78},{"year":1973,"seg":"a","day":121.4,"temp":23.88},{"year":1973,"seg":"a","day":127.8,"temp":23.89},{"year":1973,"seg":"a","day":132.9,"temp":23.81},{"year":1973,"seg":"a","day":136.7,"temp":23.79},{"year":1973,"seg":"a","day":141.8,"temp":23.94},{"year":1973,"seg":"a","day":149.4,"temp":24.02},{"year":1973,"seg":"a","day":157,"temp":24.05},{"year":1973,"seg":"a","day":162.1,"temp":24.2},{"year":1973,"seg":"a","day":167.2,"temp":24.48},{"year":1973,"seg":"a","day":172.3,"temp":24.8},{"year":1973,"seg":"a","day":177.4,"temp":24.89},{"year":1973,"seg":"a","day":182.4,"temp":24.8},{"year":1973,"seg":"a","day":188.8,"temp":24.7},{"year":1973,"seg":"a","day":192.6,"temp":24.69},{"year":1973,"seg":"a","day":197.7,"temp":24.78},{"year":1973,"seg":"a","day":201.5,"temp":24.96},{"year":1973,"seg":"a","day":205.6,"temp":25.15},{"year":1973,"seg":"a","day":210.7,"temp":25.26},{"year":1973,"seg":"a","day":215.8,"temp":25.28},{"year":1973,"seg":"a","day":220.9,"temp":25.33},{"year":1973,"seg":"a","day":226,"temp":25.44},{"year":1973,"seg":"a","day":232.3,"temp":25.58},{"year":1973,"seg":"a","day":238.7,"temp":25.63},{"year":1973,"seg":"a","day":245.1,"temp":25.64},{"year":1973,"seg":"a","day":250.2,"temp":25.72},{"year":1973,"seg":"a","day":256.5,"temp":25.85},{"year":1973,"seg":"a","day":262.1,"temp":25.93},{"year":1973,"seg":"a","day":266.7,"temp":25.94},{"year":1973,"seg":"a","day":271.8,"temp":25.88},{"year":1973,"seg":"a","day":279.4,"temp":25.8},{"year":1973,"seg":"a","day":287.1,"temp":25.72},{"year":1973,"seg":"a","day":293.4,"temp":25.64},{"year":1973,"seg":"a","day":298.5,"temp":25.61},{"year":1973,"seg":"a","day":303.6,"temp":25.66},{"year":1973,"seg":"a","day":308.7,"temp":25.77},{"year":1973,"seg":"a","day":313,"temp":25.83},{"year":1973,"seg":"a","day":316.3,"temp":25.79},{"year":1973,"seg":"a","day":320.1,"temp":25.63},{"year":1973,"seg":"a","day":324,"temp":25.41},{"year":1973,"seg":"a","day":327.8,"temp":25.15},{"year":1973,"seg":"a","day":332.9,"temp":24.96},{"year":1973,"seg":"a","day":338,"temp":24.87},{"year":1973,"seg":"a","day":343,"temp":24.77},{"year":1973,"seg":"a","day":348.1,"temp":24.68},{"year":1973,"seg":"a","day":351.9,"temp":24.55},{"year":1973,"seg":"a","day":355.8,"temp":24.46},{"year":1973,"seg":"a","day":359.6,"temp":24.43},{"year":1973,"seg":"a","day":363.4,"temp":24.46},{"year":1973,"seg":"a","day":369,"temp":24.63}
  ]
 },
 "columns": 2,
 "spacing": {"row": 19, "column": 21},
 "bounds": "flush",
 "concat": [
  {
   "width": 522, "height": 367,
   "layer": [
    {"data": {"name": "curve"}, "transform": [{"filter": "datum.year == 1970"}],
     "mark": {"type": "line", "interpolate": "monotone", "color": "#3c3c3c", "strokeWidth": 1},
     "encoding": {
      "x": {"field": "day", "type": "quantitative", "scale": {"domain": [0, 400], "nice": false, "zero": false}, "axis": {"orient": "bottom", "values": [0,40,80,120,160,200,240,280,320,360,400], "labels": false, "title": null}},
      "y": {"field": "temp", "type": "quantitative", "scale": {"domain": [21, 28], "nice": false, "zero": false}, "axis": {"orient": "left", "values": [21,22,23,24,25,26,27,28], "labelPadding": 8, "title": "SEA TEMPERATURE (°C)", "titleX": -45, "titleBaseline": "middle"}},
      "detail": {"field": "seg"}}},
    {"data": {"name": "obs"}, "transform": [{"filter": "datum.year == 1970 && datum.kind == 'triangle'"}],
     "mark": {"type": "point", "shape": "triangle-up", "filled": true, "color": "#111111", "size": 24, "opacity": 1},
     "encoding": {
      "x": {"field": "day", "type": "quantitative", "axis": {"orient": "top", "values": [0,40,80,120,160,200,240,280,320,360,400], "labels": false, "title": null}},
      "y": {"field": "temp", "type": "quantitative", "axis": {"orient": "right", "values": [21,22,23,24,25,26,27,28], "labels": false, "title": null}}}},
    {"data": {"name": "obs"}, "transform": [{"filter": "datum.year == 1970 && datum.kind == 'circle'"}],
     "mark": {"type": "point", "shape": "circle", "filled": false, "color": "#111111", "size": 24, "strokeWidth": 0.8, "opacity": 1},
     "encoding": {"x": {"field": "day", "type": "quantitative", "axis": null}, "y": {"field": "temp", "type": "quantitative", "axis": null}}},
    {"data": {"name": "years"}, "transform": [{"filter": "datum.year == 1970"}],
     "mark": {"type": "text", "fontSize": 17, "align": "center", "baseline": "middle", "color": "#111111"},
     "encoding": {"x": {"datum": 52, "type": "quantitative", "axis": null}, "y": {"datum": 27.12, "type": "quantitative", "axis": null}, "text": {"field": "label"}}}
   ],
   "resolve": {"axis": {"x": "independent", "y": "independent"}}
  },
  {
   "width": 524, "height": 367,
   "layer": [
    {"data": {"name": "curve"}, "transform": [{"filter": "datum.year == 1972"}],
     "mark": {"type": "line", "interpolate": "monotone", "color": "#3c3c3c", "strokeWidth": 1},
     "encoding": {
      "x": {"field": "day", "type": "quantitative", "scale": {"domain": [0, 400], "nice": false, "zero": false}, "axis": {"orient": "bottom", "values": [0,40,80,120,160,200,240,280,320,360,400], "labels": false, "title": null}},
      "y": {"field": "temp", "type": "quantitative", "scale": {"domain": [21, 28], "nice": false, "zero": false}, "axis": {"orient": "left", "values": [21,22,23,24,25,26,27,28], "labels": false, "title": null}},
      "detail": {"field": "seg"}}},
    {"data": {"name": "obs"}, "transform": [{"filter": "datum.year == 1972 && datum.kind == 'triangle'"}],
     "mark": {"type": "point", "shape": "triangle-up", "filled": true, "color": "#111111", "size": 24, "opacity": 1},
     "encoding": {
      "x": {"field": "day", "type": "quantitative", "axis": {"orient": "top", "values": [0,40,80,120,160,200,240,280,320,360,400], "labels": false, "title": null}},
      "y": {"field": "temp", "type": "quantitative", "axis": {"orient": "right", "values": [21,22,23,24,25,26,27,28], "labels": false, "title": null}}}},
    {"data": {"name": "obs"}, "transform": [{"filter": "datum.year == 1972 && datum.kind == 'circle'"}],
     "mark": {"type": "point", "shape": "circle", "filled": false, "color": "#111111", "size": 24, "strokeWidth": 0.8, "opacity": 1},
     "encoding": {"x": {"field": "day", "type": "quantitative", "axis": null}, "y": {"field": "temp", "type": "quantitative", "axis": null}}},
    {"data": {"name": "years"}, "transform": [{"filter": "datum.year == 1972"}],
     "mark": {"type": "text", "fontSize": 17, "align": "center", "baseline": "middle", "color": "#111111"},
     "encoding": {"x": {"datum": 53, "type": "quantitative", "axis": null}, "y": {"datum": 27.12, "type": "quantitative", "axis": null}, "text": {"field": "label"}}}
   ],
   "resolve": {"axis": {"x": "independent", "y": "independent"}}
  },
  {
   "width": 522, "height": 366,
   "layer": [
    {"data": {"name": "curve"}, "transform": [{"filter": "datum.year == 1971"}],
     "mark": {"type": "line", "interpolate": "monotone", "color": "#3c3c3c", "strokeWidth": 1},
     "encoding": {
      "x": {"field": "day", "type": "quantitative", "scale": {"domain": [0, 400], "nice": false, "zero": false}, "axis": {"orient": "bottom", "values": [0,40,80,120,160,200,240,280,320,360,400], "labelPadding": 5.5, "title": "DAYS", "titleY": 34, "titleBaseline": "middle"}},
      "y": {"field": "temp", "type": "quantitative", "scale": {"domain": [21, 28], "nice": false, "zero": false}, "axis": {"orient": "left", "values": [21,22,23,24,25,26,27,28], "labelPadding": 8, "title": "SEA TEMPERATURE (°C)", "titleX": -45, "titleBaseline": "middle"}},
      "detail": {"field": "seg"}}},
    {"data": {"name": "obs"}, "transform": [{"filter": "datum.year == 1971 && datum.kind == 'triangle'"}],
     "mark": {"type": "point", "shape": "triangle-up", "filled": true, "color": "#111111", "size": 24, "opacity": 1},
     "encoding": {
      "x": {"field": "day", "type": "quantitative", "axis": {"orient": "top", "values": [0,40,80,120,160,200,240,280,320,360,400], "labels": false, "title": null}},
      "y": {"field": "temp", "type": "quantitative", "axis": {"orient": "right", "values": [21,22,23,24,25,26,27,28], "labels": false, "title": null}}}},
    {"data": {"name": "obs"}, "transform": [{"filter": "datum.year == 1971 && datum.kind == 'circle'"}],
     "mark": {"type": "point", "shape": "circle", "filled": false, "color": "#111111", "size": 24, "strokeWidth": 0.8, "opacity": 1},
     "encoding": {"x": {"field": "day", "type": "quantitative", "axis": null}, "y": {"field": "temp", "type": "quantitative", "axis": null}}},
    {"data": {"name": "years"}, "transform": [{"filter": "datum.year == 1971"}],
     "mark": {"type": "text", "fontSize": 17, "align": "center", "baseline": "middle", "color": "#111111"},
     "encoding": {"x": {"datum": 51, "type": "quantitative", "axis": null}, "y": {"datum": 27.1, "type": "quantitative", "axis": null}, "text": {"field": "label"}}}
   ],
   "resolve": {"axis": {"x": "independent", "y": "independent"}}
  },
  {
   "width": 524, "height": 366,
   "layer": [
    {"data": {"name": "curve"}, "transform": [{"filter": "datum.year == 1973"}],
     "mark": {"type": "line", "interpolate": "monotone", "color": "#3c3c3c", "strokeWidth": 1},
     "encoding": {
      "x": {"field": "day", "type": "quantitative", "scale": {"domain": [0, 400], "nice": false, "zero": false}, "axis": {"orient": "bottom", "values": [0,40,80,120,160,200,240,280,320,360,400], "labelPadding": 5.5, "title": "DAYS", "titleY": 34, "titleBaseline": "middle"}},
      "y": {"field": "temp", "type": "quantitative", "scale": {"domain": [21, 28], "nice": false, "zero": false}, "axis": {"orient": "left", "values": [21,22,23,24,25,26,27,28], "labels": false, "title": null}},
      "detail": {"field": "seg"}}},
    {"data": {"name": "obs"}, "transform": [{"filter": "datum.year == 1973 && datum.kind == 'triangle'"}],
     "mark": {"type": "point", "shape": "triangle-up", "filled": true, "color": "#111111", "size": 24, "opacity": 1},
     "encoding": {
      "x": {"field": "day", "type": "quantitative", "axis": {"orient": "top", "values": [0,40,80,120,160,200,240,280,320,360,400], "labels": false, "title": null}},
      "y": {"field": "temp", "type": "quantitative", "axis": {"orient": "right", "values": [21,22,23,24,25,26,27,28], "labels": false, "title": null}}}},
    {"data": {"name": "obs"}, "transform": [{"filter": "datum.year == 1973 && datum.kind == 'dot'"}],
     "mark": {"type": "point", "shape": "circle", "filled": true, "color": "#111111", "size": 4, "opacity": 1},
     "encoding": {"x": {"field": "day", "type": "quantitative", "axis": null}, "y": {"field": "temp", "type": "quantitative", "axis": null}}},
    {"data": {"name": "years"}, "transform": [{"filter": "datum.year == 1973"}],
     "mark": {"type": "text", "fontSize": 17, "align": "center", "baseline": "middle", "color": "#111111"},
     "encoding": {"x": {"datum": 54, "type": "quantitative", "axis": null}, "y": {"datum": 27.13, "type": "quantitative", "axis": null}, "text": {"field": "label"}}}
   ],
   "resolve": {"axis": {"x": "independent", "y": "independent"}}
  }
 ]
}
